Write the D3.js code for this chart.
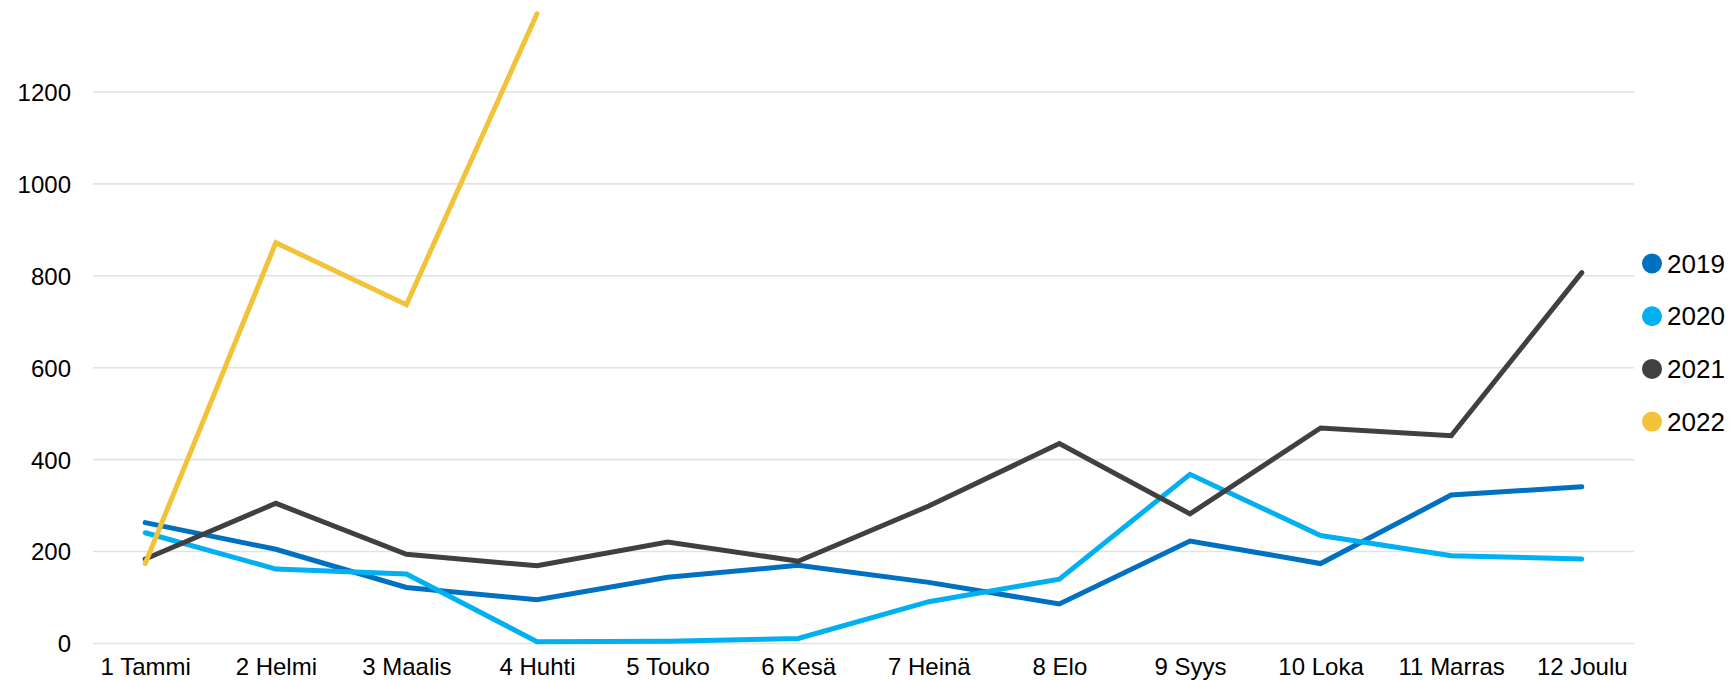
<!DOCTYPE html>
<html>
<head>
<meta charset="utf-8">
<script src="https://cdn.jsdelivr.net/npm/d3@7"></script>
<style>
  html, body { margin: 0; padding: 0; background: #fff; }
  svg { display: block; font-family: "Liberation Sans", Arial, sans-serif; }
</style>
</head>
<body>
<svg id="chart" width="1735" height="680"></svg>
<script>
const categories = ["1 Tammi", "2 Helmi", "3 Maalis", "4 Huhti", "5 Touko", "6 Kesä",
                    "7 Heinä", "8 Elo", "9 Syys", "10 Loka", "11 Marras", "12 Joulu"];
const seriesNames = ["2019", "2020", "2021", "2022"];
const values2019 = [263, 205, 122, 95, 144, 170, 133, 86, 223, 174, 323, 341];
const values2020 = [241, 162, 151, 4, 5, 11, 91, 140, 368, 235, 191, 184];
const values2021 = [184, 305, 194, 169, 221, 179, 299, 435, 282, 469, 452, 807];
const values2022 = [174, 872, 737, 1370];
const yTicks = [0, 200, 400, 600, 800, 1000, 1200];
const colors = ["#0070C0", "#00B0F0", "#404040", "#F2C338"];

const seriesValues = [values2019, values2020, values2021, values2022];

(function () {
const svg = d3.select("#chart");
const plotLeft = 93, plotRight = 1634, plotTop = 0, plotBottom = 643.5;

const x = d3.scalePoint().domain(categories).range([plotLeft, plotRight]).padding(0.4);
const y = d3.scaleLinear().domain([0, 1400]).range([plotBottom, plotTop]);

// gridlines
svg.append("g")
  .selectAll("line")
  .data(yTicks)
  .join("line")
  .attr("x1", plotLeft).attr("x2", plotRight)
  .attr("y1", d => y(d)).attr("y2", d => y(d))
  .attr("stroke", "#e2e2e2")
  .attr("stroke-width", 1.6);

// y axis labels
const yAxis = d3.axisLeft(y).tickValues(yTicks).tickFormat(d3.format("d")).tickSize(0).tickPadding(0);
svg.append("g")
  .attr("transform", "translate(71,0)")
  .call(yAxis)
  .call(g => g.select(".domain").remove())
  .call(g => g.selectAll("text")
    .attr("font-size", 24)
    .attr("font-family", "Liberation Sans, Arial, sans-serif")
    .attr("fill", "#000")
    .attr("dy", "0.35em"));

// x axis labels
const xAxis = d3.axisBottom(x).tickSize(0).tickPadding(0);
svg.append("g")
  .attr("transform", "translate(0,675)")
  .call(xAxis)
  .call(g => g.select(".domain").remove())
  .call(g => g.selectAll("text")
    .attr("font-size", 24)
    .attr("font-family", "Liberation Sans, Arial, sans-serif")
    .attr("fill", "#000")
    .attr("y", 0)
    .attr("dy", 0));

// lines
const line = d3.line()
  .x((d, i) => x(categories[i]))
  .y(d => y(d));

svg.append("g")
  .selectAll("path")
  .data(seriesValues)
  .join("path")
  .attr("d", d => line(d))
  .attr("fill", "none")
  .attr("stroke", (d, i) => colors[i])
  .attr("stroke-width", 5)
  .attr("stroke-linecap", "round")
  .attr("stroke-linejoin", "miter");

// legend
const legend = svg.append("g");
const lg = legend.selectAll("g")
  .data(seriesNames)
  .join("g")
  .attr("transform", (d, i) => `translate(1652,${263.5 + i * 52.7})`);
lg.append("circle")
  .attr("r", 10)
  .attr("fill", (d, i) => colors[i]);
lg.append("text")
  .attr("x", 15)
  .attr("dy", "0.35em")
  .attr("font-size", 26)
  .attr("fill", "#000")
  .text(d => d);
})();
</script>
</body>
</html>
